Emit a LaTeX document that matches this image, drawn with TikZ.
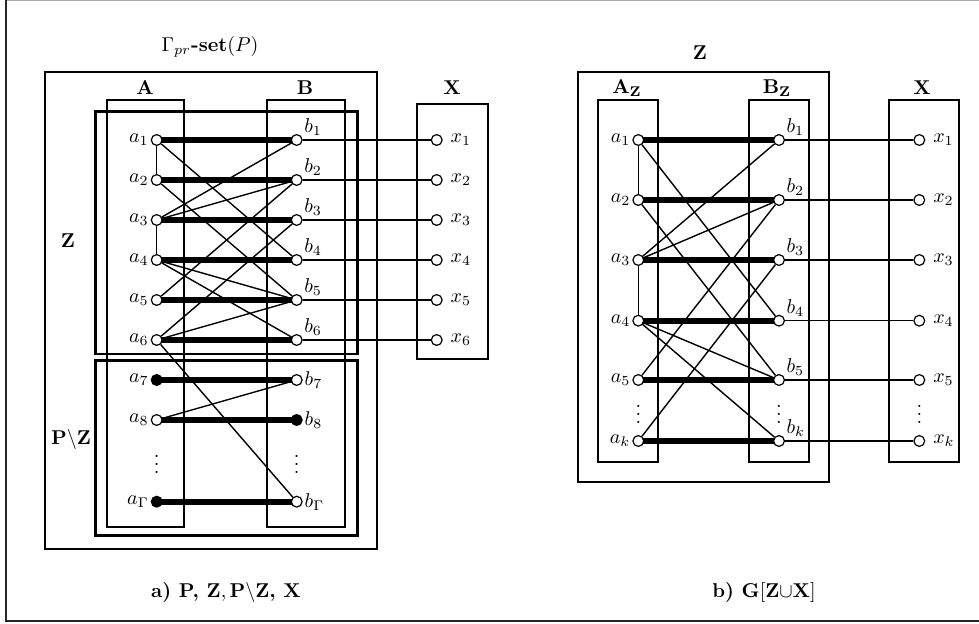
\documentclass[tikz,border=0pt]{standalone}
\usepackage{amsmath,amssymb}
\usetikzlibrary{backgrounds}
\begin{document}
\begin{tikzpicture}[x=0.5pt,y=-0.5pt,
  vtx/.style={circle,draw,fill=white,inner sep=0pt,minimum size=5.4pt,line width=0.6pt},
  fvtx/.style={vtx,fill=black},
  thk/.style={line width=2.9pt},
  thn/.style={line width=0.7pt},
  boxl/.style={draw,line width=1pt},
  zboxl/.style={draw,line width=1.4pt},
  al/.style={inner sep=0.8pt},
  bl/.style={inner sep=0.3pt,xshift=1.2pt,yshift=-0.6pt},
  xl/.style={inner sep=0.8pt,label distance=3pt},
  ttl/.style={inner sep=0pt}]
\useasboundingbox (0,0) rectangle (979,624);
% frame
\draw[gray!70,line width=0.6pt] (6,0.6) -- (979,0.6);
\draw[black!85,line width=1.1pt] (6,0) -- (6,621) -- (979,621);

% ---------------- left diagram: titles
\node[ttl] (tg) at (210,47) {$\Gamma_{pr}$\textbf{-set}$(P)$};
\node[ttl] (tA) at (145,88) {$\mathbf{A}$};
\node[ttl] (tB) at (305,88) {$\mathbf{B}$};
\node[ttl] (tX) at (452,88) {$\mathbf{X}$};
\node[ttl] (tZ) at (68,241) {$\mathbf{Z}$};
\node[ttl] (tPZ) at (71,440) {$\mathbf{P}\backslash\mathbf{Z}$};
\node[ttl] (capa) at (226,592) {\textbf{a) P, }$\mathbf{Z, P}\backslash\mathbf{Z}$\textbf{, X}};

% left nodes
\foreach \i/\y in {1/140,2/180,3/220,4/260,5/300,6/340}{
  \node[vtx,label={[al]left:$a_{\i}$}] (la\i) at (156.7,\y) {};
  \node[vtx,label={[bl,anchor=south west]north east:$b_{\i}$}] (lb\i) at (296.7,\y) {};
  \node[vtx,label={[xl]right:$x_{\i}$}] (lx\i) at (436.7,\y) {};
}
\node[fvtx,label={[al]left:$a_{7}$}] (la7) at (156.7,380) {};
\node[vtx,label={[al]right:$b_{7}$}] (lb7) at (296.7,380) {};
\node[vtx,label={[al]left:$a_{8}$}] (la8) at (156.7,420) {};
\node[fvtx,label={[al]right:$b_{8}$}] (lb8) at (296.7,420) {};
\node[fvtx,label={[al]left:$a_{\Gamma}$}] (laG) at (156.7,501.7) {};
\node[vtx,label={[al]right:$b_{\Gamma}$}] (lbG) at (296.7,501.7) {};
\node[ttl] (ldA) at (156.7,458) {$\vdots$};
\node[ttl] (ldB) at (296.7,458) {$\vdots$};

% ---------------- right diagram: titles and nodes
\node[ttl] (rtZ) at (700,53) {$\mathbf{Z}$};
\node[ttl] (rtA) at (627,88) {$\mathbf{A_Z}$};
\node[ttl] (rtB) at (777,88) {$\mathbf{B_Z}$};
\node[ttl] (rtX) at (922,88) {$\mathbf{X}$};
\node[ttl] (capb) at (764,592) {\textbf{b) G}$[\mathbf{Z}{\cup}\mathbf{X}]$};

\foreach \i/\y in {1/140,2/200,3/260,4/320.7,5/380,k/441}{
  \node[vtx,label={[al]left:$a_{\i}$}] (ra\i) at (638.3,\y) {};
  \node[vtx,label={[bl,anchor=south west]north east:$b_{\i}$}] (rb\i) at (779,\y) {};
  \node[vtx,label={[xl]right:$x_{\i}$}] (rx\i) at (919.3,\y) {};
}
\node[ttl] (rdA) at (638.3,408) {$\vdots$};
\node[ttl] (rdB) at (779,408) {$\vdots$};
\node[ttl] (rdX) at (919.3,408) {$\vdots$};

\begin{pgfonlayer}{background}
% left boxes
\draw[boxl] (45,71.7) rectangle (377,549);
\draw[boxl] (106.7,100) rectangle (184.3,527);
\draw[boxl] (266.7,100) rectangle (345.3,527);
\draw[zboxl] (95.7,111.7) rectangle (357.3,354);
\draw[zboxl] (95.7,360.7) rectangle (357.3,535.7);
\draw[boxl] (417.3,104) rectangle (487.7,359.3);
% left edges
\foreach \i in {1,...,8}{ \draw[thk] (la\i.center) -- (lb\i.center); }
\draw[thk] (laG.center) -- (lbG.center);
\foreach \i in {1,...,6}{ \draw[thn] (lb\i) -- (lx\i); }
\draw[thn] (la1) -- (la2);
\draw[thn] (la3) -- (la4);
\draw[thn] (la1) -- (lb4);
\draw[thn] (la2) -- (lb5);
\draw[thn] (la3) -- (lb1);
\draw[thn] (la3) -- (lb2);
\draw[thn] (la4) -- (lb5);
\draw[thn] (la4) -- (lb6);
\draw[thn] (la5) -- (lb2);
\draw[thn] (la6) -- (lb3);
\draw[thn] (la6) -- (lb5);
\draw[thn] (la6) -- (lbG);
\draw[thn] (la8) -- (lb7);
% right boxes
\draw[boxl] (578.3,71.7) rectangle (829,482);
\draw[boxl] (598.3,100) rectangle (658.3,461.7);
\draw[boxl] (749,100) rectangle (809,461.7);
\draw[boxl] (889.3,100) rectangle (959.3,461.7);
% right edges
\foreach \i in {1,2,3,4,5,k}{ \draw[thk] (ra\i.center) -- (rb\i.center); \draw[thn] (rb\i) -- (rx\i); }
\draw[thn] (ra1) -- (ra2);
\draw[thn] (ra3) -- (ra4);
\draw[thn] (ra1) -- (rb4);
\draw[thn] (ra2) -- (rb5);
\draw[thn] (ra3) -- (rb1);
\draw[thn] (ra3) -- (rb2);
\draw[thn] (ra4) -- (rb5);
\draw[thn] (ra4) -- (rbk);
\draw[thn] (ra5) -- (rb2);
\draw[thn] (rak) -- (rb3);
\end{pgfonlayer}
\end{tikzpicture}
\end{document}
